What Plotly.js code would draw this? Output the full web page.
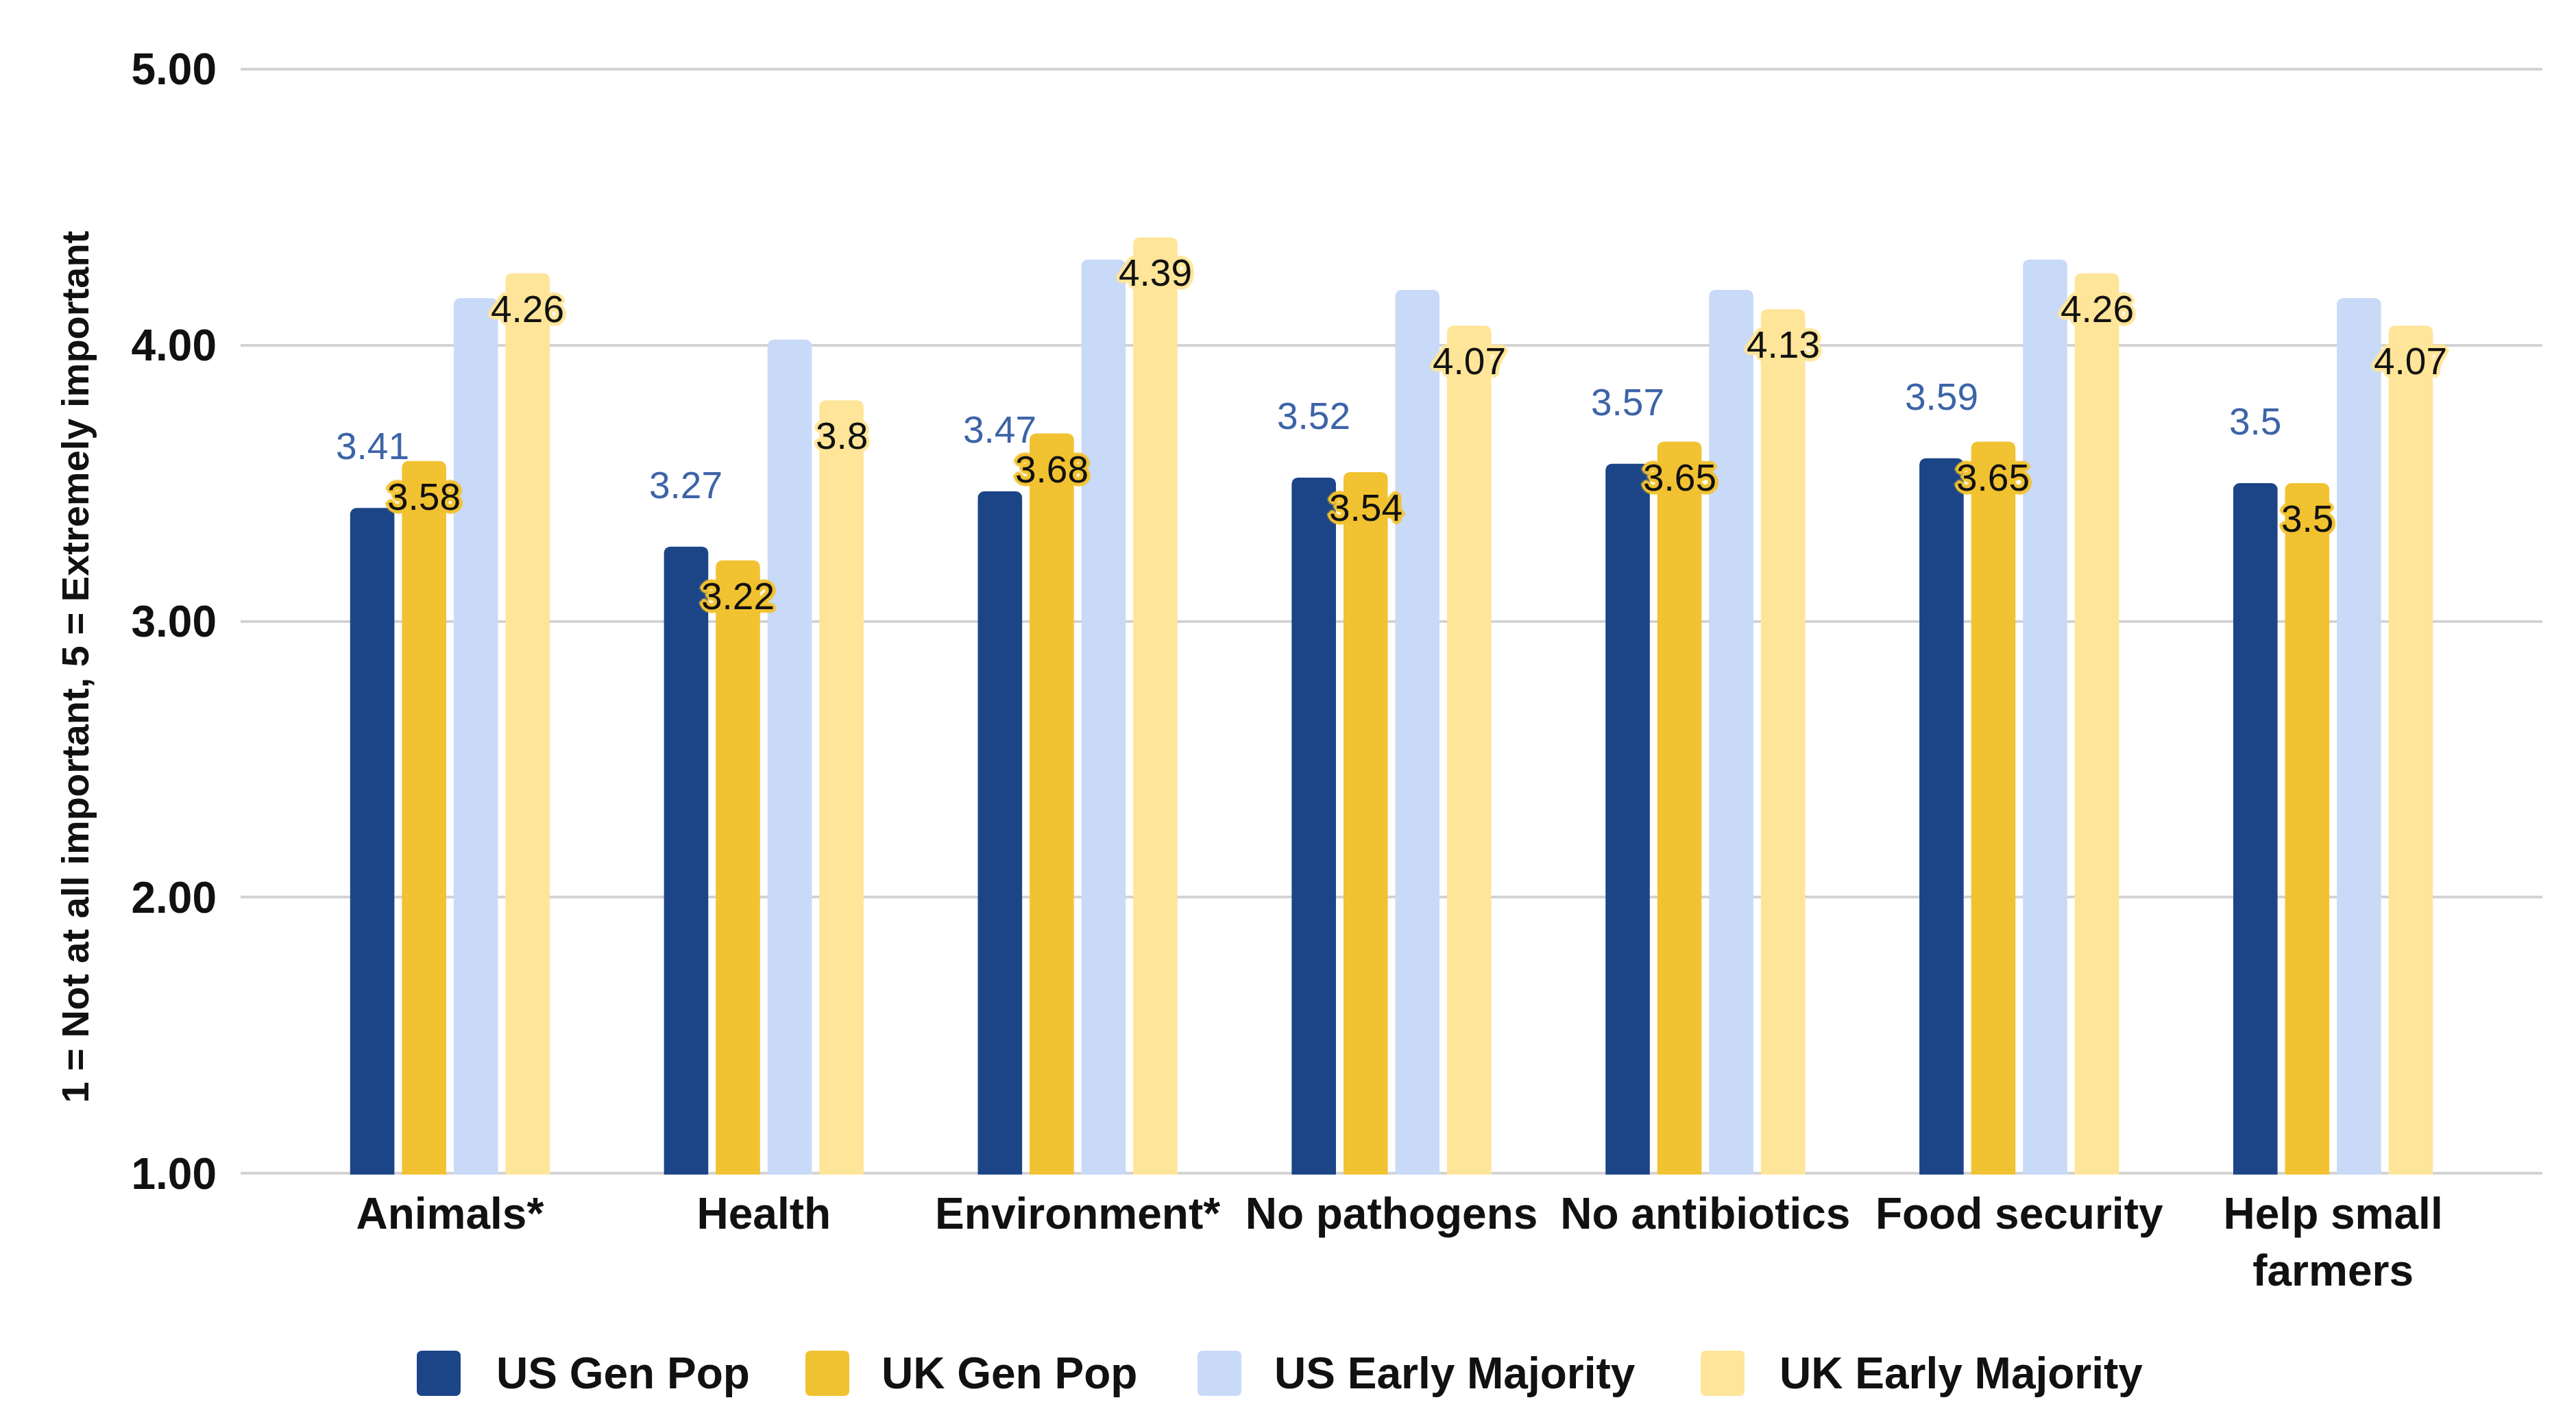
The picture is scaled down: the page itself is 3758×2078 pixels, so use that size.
<!DOCTYPE html>
<html>
<head>
<meta charset="utf-8">
<script src="https://cdn.plot.ly/plotly-3.0.1.min.js"></script>
<style>
  html, body { margin: 0; padding: 0; background: #fff; }
  #myDiv { width: 3758px; height: 2078px; }
</style>
</head>
<body>
<div id="myDiv"></div>
<script>
// categories and values
let categories = ['Animals*', 'Health', 'Environment*', 'No pathogens', 'No antibiotics', 'Food security', 'Help small<br>farmers'];
let usGenPop = [3.41, 3.27, 3.47, 3.52, 3.57, 3.59, 3.5];
let ukGenPop = [3.58, 3.22, 3.68, 3.54, 3.65, 3.65, 3.5];
let usEarly = [4.17, 4.02, 4.31, 4.20, 4.20, 4.31, 4.17];
let ukEarly = [4.26, 3.8, 4.39, 4.07, 4.13, 4.26, 4.07];
let seriesNames = ['US Gen Pop', 'UK Gen Pop', 'US Early Majority', 'UK Early Majority'];
let seriesColors = ['#1c4587', '#f1c232', '#c9daf8', '#ffe599'];
let yTicks = [1, 2, 3, 4, 5];

const FONT = 'Liberation Sans, Arial, sans-serif';
const W = 3758, H = 2078;
const M = {l: 351, r: 49, t: 99, b: 364};
const BARGAP = 0.34;

// pixel -> paper helpers (for legend / axis title placement only)
function px(x) { return (x - M.l) / (W - M.l - M.r); }
function py(y) { return (H - M.b - y) / (H - M.t - M.b); }

let allValues = [usGenPop, ukGenPop, usEarly, ukEarly];
let data = allValues.map(function (vals, i) {
  return {
    type: 'bar',
    x: categories,
    y: vals,
    name: seriesNames[i],
    marker: {color: seriesColors[i], cornerradius: 9},
    showlegend: false,
    hoverinfo: 'x+y+name'
  };
});

// centre offset of each trace inside its category slot
function slotOffset(i) {
  let slot = (1 - BARGAP) / 4;
  return -(1 - BARGAP) / 2 + slot * (i + 0.5);
}

function halo(c) {
  let s = [];
  [[4,0],[-4,0],[0,4],[0,-4],[3,3],[-3,-3],[3,-3],[-3,3],[5,1],[-5,-1],[1,5],[-1,-5],[2,0],[-2,0],[0,2],[0,-2]].forEach(function (d) {
    s.push(d[0] + 'px ' + d[1] + 'px 2px ' + c);
  });
  return s.join(', ');
}

let annotations = [];
categories.forEach(function (c, k) {
  annotations.push({
    x: k + slotOffset(0), y: usGenPop[k], xref: 'x', yref: 'y',
    text: String(usGenPop[k]), showarrow: false, yshift: 90,
    font: {family: FONT, size: 55, color: '#3d64a8'}
  });
  annotations.push({
    x: k + slotOffset(1), y: ukGenPop[k], xref: 'x', yref: 'y',
    text: String(ukGenPop[k]), showarrow: false, yshift: -52,
    font: {family: FONT, size: 55, color: '#111111', shadow: halo('#f1c232')}
  });
  annotations.push({
    x: k + slotOffset(3), y: ukEarly[k], xref: 'x', yref: 'y',
    text: String(ukEarly[k]), showarrow: false, yshift: -52,
    font: {family: FONT, size: 55, color: '#111111', shadow: halo('#ffe599')}
  });
});

// y axis title
annotations.push({
  xref: 'paper', yref: 'paper', x: px(75), y: py(973),
  text: '1 = Not at all important, 5 = Extremely important',
  textangle: -90, showarrow: false,
  font: {family: FONT, size: 56, color: '#111111', weight: 'bold'}
});

// legend built as boxes + labels
let legendMarkX = [640, 1207, 1779, 2513];
let legendTextX = [722, 1284, 1857, 2594];
let legendY = 2004;
let shapes = [];
let box = 'M-24,-33 L24,-33 Q32,-33 32,-25 L32,25 Q32,33 24,33 L-24,33 Q-32,33 -32,25 L-32,-25 Q-32,-33 -24,-33 Z';
seriesNames.forEach(function (n, i) {
  shapes.push({
    type: 'path', xref: 'paper', yref: 'paper',
    xsizemode: 'pixel', ysizemode: 'pixel',
    xanchor: px(legendMarkX[i]), yanchor: py(legendY),
    path: box, fillcolor: seriesColors[i], line: {width: 0}
  });
  annotations.push({
    xref: 'paper', yref: 'paper', x: px(legendTextX[i]), y: py(legendY),
    xanchor: 'left', yanchor: 'middle', text: n, showarrow: false,
    font: {family: FONT, size: 64, color: '#111111', weight: 'bold'}
  });
});

let layout = {
  width: W,
  height: H,
  margin: M,
  paper_bgcolor: '#ffffff',
  plot_bgcolor: '#ffffff',
  barmode: 'group',
  bargap: BARGAP,
  bargroupgap: 0.145,
  showlegend: false,
  font: {family: FONT, color: '#111111'},
  xaxis: {
    type: 'category',
    range: [-0.667, 6.667],
    showgrid: false,
    zeroline: false,
    showline: false,
    ticks: '',
    ticklabelstandoff: 14,
    tickfont: {family: FONT, size: 64, color: '#111111', weight: 'bold'}
  },
  yaxis: {
    range: [0.996, 5.004],
    tickvals: yTicks,
    tickformat: '.2f',
    showgrid: true,
    gridcolor: '#d3d3d3',
    gridwidth: 4,
    zeroline: false,
    showline: false,
    ticks: '',
    ticklabelstandoff: 34,
    tickfont: {family: FONT, size: 64, color: '#111111', weight: 'bold'}
  },
  annotations: annotations,
  shapes: shapes
};

Plotly.newPlot('myDiv', data, layout, {displayModeBar: false, staticPlot: true});
</script>
</body>
</html>
